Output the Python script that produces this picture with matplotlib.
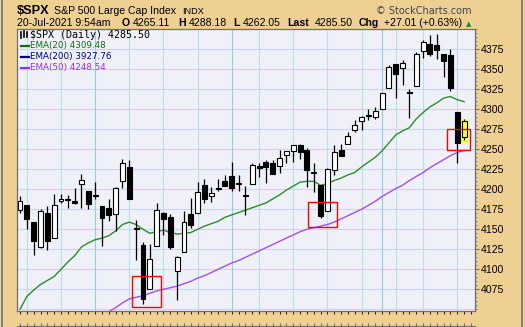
import matplotlib
matplotlib.use('Agg')
import matplotlib.pyplot as plt
from matplotlib.patches import Rectangle
from matplotlib.lines import Line2D
from matplotlib.ticker import MultipleLocator

# $SPX daily, 16-Apr-2021 .. 20-Jul-2021 (one entry per trading day)
opens = [4174.14, 4179.80, 4159.18, 4128.42, 4170.46, 4138.78, 4185.03, 4188.25, 4185.14, 4206.14,
         4198.10, 4191.98, 4179.04, 4177.06, 4169.14, 4210.34, 4228.29, 4150.34, 4130.55, 4074.99,
         4129.58, 4169.92, 4165.94, 4098.45, 4121.97, 4168.61, 4170.16, 4205.94, 4191.59, 4201.94,
         4210.77, 4216.52, 4206.82, 4191.43, 4206.05, 4229.34, 4233.81, 4232.99, 4228.56, 4242.90,
         4248.31, 4255.28, 4248.87, 4220.37, 4204.78, 4173.40, 4224.61, 4249.27, 4256.97, 4274.45,
         4284.90, 4293.21, 4290.65, 4300.73, 4326.60, 4356.46, 4351.01, 4321.07, 4329.38, 4372.41,
         4381.07, 4380.11, 4369.02, 4367.43, 4296.40, 4265.11]
highs = [4191.31, 4180.81, 4159.18, 4175.02, 4179.57, 4194.17, 4194.19, 4193.35, 4201.53, 4218.78,
         4198.10, 4209.39, 4179.04, 4187.72, 4202.70, 4238.04, 4236.39, 4162.04, 4134.73, 4131.58,
         4183.13, 4171.92, 4169.15, 4116.93, 4172.80, 4188.72, 4209.52, 4213.42, 4202.61, 4213.38,
         4218.36, 4234.12, 4217.37, 4204.39, 4233.45, 4232.34, 4236.74, 4237.09, 4249.74, 4248.38,
         4255.59, 4257.16, 4251.89, 4232.29, 4204.78, 4226.24, 4255.84, 4256.60, 4271.28, 4286.12,
         4292.14, 4300.52, 4302.43, 4320.66, 4355.43, 4356.46, 4361.88, 4324.81, 4371.60, 4386.68,
         4392.37, 4393.68, 4369.02, 4375.09, 4296.40, 4288.18]
lows = [4170.75, 4150.47, 4118.38, 4126.35, 4123.69, 4138.78, 4182.36, 4176.22, 4181.78, 4176.81,
        4174.85, 4188.03, 4128.59, 4160.94, 4147.33, 4201.64, 4188.13, 4111.53, 4056.88, 4074.99,
        4129.58, 4142.69, 4125.99, 4061.41, 4121.97, 4151.72, 4170.16, 4182.52, 4184.11, 4197.78,
        4203.57, 4197.59, 4198.27, 4167.93, 4206.05, 4215.66, 4208.41, 4218.74, 4220.34, 4232.25,
        4234.07, 4238.35, 4202.45, 4196.05, 4164.40, 4173.40, 4217.27, 4241.43, 4256.97, 4271.16,
        4274.67, 4287.04, 4287.96, 4300.73, 4326.60, 4314.37, 4329.79, 4289.67, 4329.38, 4364.03,
        4366.92, 4362.36, 4340.70, 4322.53, 4233.13, 4262.05]
closes = [4185.47, 4163.26, 4134.94, 4173.42, 4134.98, 4180.17, 4187.62, 4186.72, 4183.18, 4211.47,
          4181.17, 4192.66, 4164.66, 4167.59, 4201.62, 4232.60, 4188.43, 4152.10, 4063.04, 4112.50,
          4173.85, 4163.29, 4127.83, 4115.68, 4159.12, 4155.86, 4197.05, 4188.13, 4195.99, 4200.88,
          4204.11, 4202.04, 4208.12, 4192.85, 4229.89, 4226.52, 4227.26, 4219.55, 4239.18, 4247.44,
          4255.15, 4246.59, 4223.70, 4221.86, 4166.45, 4224.79, 4246.44, 4241.84, 4266.49, 4280.70,
          4290.61, 4291.80, 4297.50, 4319.94, 4352.34, 4343.54, 4358.13, 4320.82, 4369.55, 4384.63,
          4369.21, 4374.30, 4360.03, 4327.16, 4258.49, 4285.50]
ema20 = [4050, 4066, 4074, 4081, 4086, 4091, 4100, 4109, 4117, 4128,
         4133, 4137, 4139, 4142, 4148, 4156, 4159, 4156, 4150, 4145,
         4147, 4149, 4146, 4144, 4145, 4146, 4150, 4154, 4157, 4160,
         4165, 4168, 4171, 4174, 4177, 4180, 4183, 4188, 4193, 4199,
         4204, 4209, 4210, 4210, 4205, 4207, 4211, 4214, 4218, 4221,
         4228, 4234, 4240, 4248, 4258, 4268, 4273, 4277, 4288, 4296,
         4303, 4308, 4314, 4316, 4312, 4309.48]
ema50 = [4005, 4011, 4015, 4019, 4022, 4026, 4030, 4033, 4036, 4039,
         4041, 4043, 4045, 4047, 4052, 4058, 4063, 4065, 4067, 4070,
         4073, 4075, 4077, 4079, 4082, 4085, 4089, 4092, 4096, 4100,
         4104, 4108, 4111, 4115, 4119, 4123, 4127, 4131, 4135, 4139,
         4143, 4147, 4150, 4152, 4154, 4156, 4159, 4163, 4167, 4171,
         4175, 4180, 4185, 4191, 4196, 4201, 4205, 4211, 4216, 4221,
         4227, 4232, 4237, 4242, 4246, 4248.54]

# x axis: first trading day of each week / month
tick_idx = [1, 6, 11, 16, 21, 26, 31, 35, 40, 45, 50, 53, 55, 59, 64]
tick_lbl = ['19', '26', 'May', '10', '17', '24', 'Jun', '7', '14', '21', '28', 'Jul', '6', '12', '19']
month_lbl = ['May', 'Jun', 'Jul']
ytick_vals = [4075, 4100, 4125, 4150, 4175, 4200, 4225, 4250, 4275, 4300, 4325, 4350, 4375]

W, H = 525, 327
TAN = '#efd093'
FRAME = '#6e6e7e'
GRID = '#bcdeea'
GRID_M = '#96cbe0'
GREEN = '#2e8b2e'
PURPLE = '#a24ff0'
FONT = 'Liberation Sans'


def fx(px):
    return px / W


def fy(py):
    return 1 - py / H


fig = plt.figure(figsize=(W / 100, H / 100), dpi=100)
fig.patch.set_facecolor(TAN)

ax = fig.add_axes([fx(17), fy(310.7), fx(475 - 17), (310.7 - 29.3) / H])
ax.set_facecolor('#eff0f8')
ax.set_xlim(-0.44, 66.6)
ax.set_ylim(4048.25, 4400)

# grid
for v in range(4050, 4401, 25):
    ax.axhline(v, color=GRID, lw=0.8, zorder=0)
for i, lbl in zip(tick_idx, tick_lbl):
    ax.axvline(i, color=GRID_M if lbl in month_lbl else GRID, lw=0.8, zorder=0)

# highlight boxes
ax.add_patch(Rectangle((64.4, 4257.9), 1.16, 29.9, facecolor='#ffff44', edgecolor='none', zorder=2.5))
for (x0, y0, w, h) in [(16.44, 4052.5, 4.21, 38.5), (42.2, 4152.5, 4.2, 31.5), (62.5, 4249, 3.4, 26.4)]:
    ax.add_patch(Rectangle((x0, y0), w, h, fill=False, edgecolor='#ff0000', lw=1.0, zorder=6))

# moving averages
xs = list(range(len(closes)))
ax.plot(xs, ema20, color=GREEN, lw=1.0, zorder=2)
ax.plot(xs, ema50, color=PURPLE, lw=1.0, zorder=2)

# candles (last one sits on the yellow highlight)
ax.vlines(xs, lows, highs, color='black', lw=0.9, zorder=3)
bottoms = [min(o, c) for o, c in zip(opens, closes)]
heights = [max(abs(c - o), 0.7) for o, c in zip(opens, closes)]
faces = ['white' if c > o else 'black' for o, c in zip(opens, closes)]
faces[-1] = '#ffff44'
ax.bar(xs, heights, bottom=bottoms, width=0.72, color=faces, edgecolor='black', lw=0.8, zorder=4)

# axes styling
for s in ax.spines.values():
    s.set_color(FRAME)
    s.set_linewidth(0.9)
ax.yaxis.tick_right()
ax.set_yticks(ytick_vals)
ax.set_yticklabels([str(v) for v in ytick_vals], fontfamily=FONT, fontsize=7.6)
ax.yaxis.set_minor_locator(MultipleLocator(5))
ax.tick_params(axis='y', which='major', length=3, width=0.8, color=FRAME, pad=1)
ax.tick_params(axis='y', which='minor', length=1.5, width=0.6, color=FRAME)
ax.set_xticks(tick_idx)
ax.set_xticklabels(tick_lbl, fontfamily=FONT, fontsize=7.6)
for t in ax.get_xticklabels():
    if t.get_text() in month_lbl:
        t.set_fontweight('bold')
ax.tick_params(axis='x', length=0, pad=4)

# top edge of the (cut off) lower panel
ax2 = fig.add_axes([fx(17), fy(325.6) - 0.05, fx(475 - 17), 0.05], sharex=ax)
ax2.set_facecolor('none')
for k in ['left', 'right', 'bottom']:
    ax2.spines[k].set_visible(False)
ax2.spines['top'].set_color(FRAME)
ax2.set_yticks([])
ax2.xaxis.tick_top()
ax2.xaxis.set_minor_locator(MultipleLocator(1))
ax2.set_xticks([])
ax2.tick_params(axis='x', which='minor', length=2, width=0.8, color=FRAME, top=True)

# figure border
fig.add_artist(Rectangle((fx(1.5), -0.02), fx(520), 1.05, fill=False, edgecolor=FRAME, lw=1.2,
                         transform=fig.transFigure))

# header
fig.text(fx(17), fy(14.5), '$SPX', fontfamily=FONT, fontsize=9.2, fontweight='bold', va='baseline')
fig.text(fx(54), fy(14.5), 'S&P 500 Large Cap Index', fontfamily=FONT, fontsize=7.6, va='baseline')
fig.text(fx(182), fy(14.5), 'INDX', fontfamily=FONT, fontsize=6.6, va='baseline')
fig.text(fx(472), fy(14.5), '\u00a9 StockCharts.com', fontfamily='DejaVu Sans', fontsize=7, color='#444444',
         va='baseline', ha='right')

hdr = [(17, '20-Jul-2021 9:54am', 'normal'), (122, 'O', 'bold'), (133, '4265.11', 'normal'),
       (178, 'H', 'bold'), (189, '4288.18', 'normal'), (233, 'L', 'bold'), (243, '4262.05', 'normal'),
       (287, 'Last', 'bold'), (315, '4285.50', 'normal'), (359, 'Chg', 'bold'),
       (384, '+27.01 (+0.63%)', 'normal')]
for x, s, wgt in hdr:
    fig.text(fx(x), fy(26.5), s, fontfamily=FONT, fontsize=7.6, fontweight=wgt, va='baseline')
fig.text(fx(469), fy(24), '\u25b2', fontfamily='DejaVu Sans', fontsize=5, color='#1f8a2a', ha='center',
         va='center')

# legend inside the chart
for x0, y0, y1 in [(21, 32, 38), (24, 31, 37), (27, 32, 37)]:
    fig.add_artist(Line2D([fx(x0), fx(x0)], [fy(y0), fy(y1)], color='black', lw=1.2))
fig.text(fx(30), fy(35), '$SPX (Daily) 4285.50', fontfamily='DejaVu Sans Mono', fontsize=7.2, va='center')
leg = [('EMA(20) 4309.48', '#0f6e0f', 45.7), ('EMA(200) 3927.76', '#000080', 56.7),
       ('EMA(50) 4248.54', '#9a30e8', 67.7)]
for s, c, y in leg:
    fig.add_artist(Line2D([fx(20.7), fx(29)], [fy(y), fy(y)], color=c, lw=1.6))
    fig.text(fx(30), fy(y), s, fontfamily='DejaVu Sans', fontsize=6.3, color=c, va='center')

fig.savefig('out.png', dpi=100, facecolor=TAN)
